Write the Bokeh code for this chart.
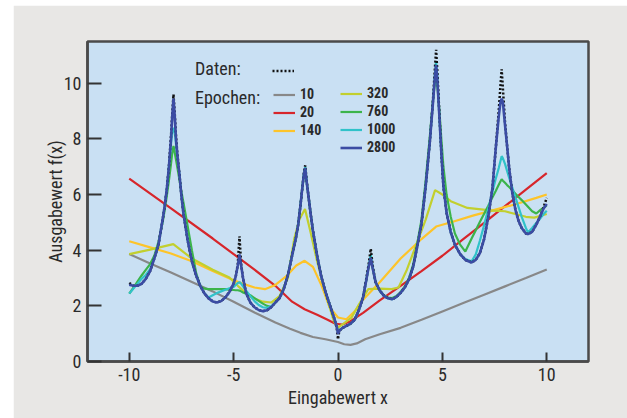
from bokeh.plotting import figure
from bokeh.models import FixedTicker, Label, Legend, LegendItem, Range1d
from bokeh.embed import file_html
from bokeh.resources import INLINE

# ---------------- data ----------------
X_TICKS = [-10, -5, 0, 5, 10]
Y_TICKS = [0, 2, 4, 6, 8, 10]

# shared grid for target data and the late-epoch fits
X = [
    -10.0, -9.8, -9.6, -9.4, -9.2, -9.0, -8.8, -8.6, -8.4, -8.3,
    -8.2, -8.1, -8.0, -7.94, -7.88, -7.82, -7.76, -7.7, -7.6, -7.5,
    -7.4, -7.2, -7.0, -6.8, -6.6, -6.4, -6.2, -6.0, -5.8, -5.6,
    -5.4, -5.2, -5.0, -4.9, -4.8, -4.72, -4.64, -4.55, -4.4, -4.2,
    -4.0, -3.8, -3.6, -3.4, -3.2, -3.0, -2.8, -2.6, -2.4, -2.2,
    -2.0, -1.9, -1.8, -1.7, -1.63, -1.57, -1.5, -1.4, -1.3, -1.2,
    -1.0, -0.8, -0.6, -0.4, -0.2, -0.06, 0.0, 0.06, 0.2, 0.4,
    0.6, 0.8, 1.0, 1.2, 1.35, 1.47, 1.57, 1.66, 1.8, 2.0,
    2.2, 2.4, 2.6, 2.8, 3.0, 3.2, 3.4, 3.6, 3.8, 4.0,
    4.2, 4.4, 4.55, 4.64, 4.7, 4.76, 4.85, 4.95, 5.05, 5.2,
    5.4, 5.6, 5.85, 6.1, 6.4, 6.6, 6.8, 7.0, 7.2, 7.4,
    7.55, 7.7, 7.78, 7.84, 7.9, 8.0, 8.1, 8.2, 8.35, 8.5,
    8.65, 8.8, 9.0, 9.1, 9.3, 9.5, 9.7, 9.85, 10.0]

DATEN = [
    2.82, 2.72, 2.72, 2.80, 2.98, 3.25, 3.7, 4.2, 5.1, 5.6,
    6.2, 7.0, 8.1, 8.9, 9.6, 8.9, 8.1, 7.5, 6.75, 5.95,
    5.3, 4.35, 3.6, 3.1, 2.72, 2.45, 2.27, 2.16, 2.12, 2.17,
    2.3, 2.5, 2.8, 3.05, 3.5, 4.5, 3.5, 3.0, 2.45, 2.12,
    1.95, 1.85, 1.81, 1.84, 1.95, 2.12, 2.28, 2.6, 3.1, 3.8,
    4.5, 4.95, 5.6, 6.3, 6.8, 7.05, 6.5, 5.85, 5.25, 4.7,
    3.8, 3.05, 2.5, 2.05, 1.6, 1.2, 0.8, 1.1, 1.2, 1.28,
    1.36, 1.5, 1.85, 2.3, 2.95, 3.5, 4.05, 3.45, 2.85, 2.55,
    2.36, 2.27, 2.24, 2.32, 2.47, 2.66, 2.95, 3.4, 4.15, 4.95,
    6.3, 7.9, 9.4, 10.5, 11.2, 10.4, 9.0, 7.5, 6.3, 5.35,
    4.65, 4.2, 3.86, 3.65, 3.56, 3.65, 3.9, 4.4, 5.2, 6.25,
    7.6, 9.0, 9.9, 10.5, 9.8, 8.6, 7.75, 6.95, 6.05, 5.45,
    5.05, 4.8, 4.6, 4.58, 4.66, 4.92, 5.25, 5.55, 5.88]

E2800 = [
    2.76, 2.72, 2.72, 2.80, 2.98, 3.25, 3.7, 4.2, 5.1, 5.6,
    6.2, 7.0, 8.0, 8.8, 9.45, 8.8, 8.0, 7.45, 6.75, 5.95,
    5.3, 4.35, 3.6, 3.1, 2.72, 2.45, 2.27, 2.16, 2.12, 2.17,
    2.3, 2.5, 2.8, 3.05, 3.45, 3.85, 3.45, 3.0, 2.45, 2.12,
    1.95, 1.85, 1.81, 1.84, 1.95, 2.12, 2.28, 2.6, 3.1, 3.8,
    4.5, 4.95, 5.6, 6.3, 6.75, 6.95, 6.45, 5.85, 5.25, 4.7,
    3.8, 3.05, 2.5, 2.05, 1.6, 1.25, 1.0, 1.1, 1.2, 1.28,
    1.36, 1.5, 1.85, 2.3, 2.9, 3.4, 3.72, 3.35, 2.85, 2.55,
    2.36, 2.27, 2.24, 2.32, 2.47, 2.66, 2.95, 3.4, 4.15, 4.95,
    6.3, 7.9, 9.3, 10.2, 10.65, 10.1, 8.9, 7.5, 6.3, 5.35,
    4.65, 4.2, 3.86, 3.65, 3.56, 3.65, 3.9, 4.4, 5.2, 6.25,
    7.6, 8.8, 9.3, 9.45, 9.3, 8.5, 7.75, 6.95, 6.05, 5.45,
    5.05, 4.8, 4.6, 4.58, 4.66, 4.92, 5.25, 5.5, 5.66]

E1000 = [
    2.44, 2.62, 2.8, 2.98, 3.12, 3.32, 3.7, 4.2, 5.1, 5.6,
    6.2, 7.0, 7.8, 8.25, 8.4, 8.2, 7.8, 7.4, 6.75, 5.95,
    5.3, 4.35, 3.6, 3.1, 2.72, 2.45, 2.3, 2.38, 2.46, 2.52,
    2.58, 2.63, 2.68, 2.75, 2.82, 2.85, 2.8, 2.7, 2.55, 2.35,
    2.17, 2.03, 1.95, 1.93, 1.98, 2.12, 2.28, 2.6, 3.1, 3.8,
    4.5, 4.95, 5.6, 6.3, 6.75, 7.0, 6.45, 5.85, 5.25, 4.7,
    3.8, 3.05, 2.5, 2.05, 1.6, 1.25, 1.05, 1.12, 1.2, 1.28,
    1.36, 1.5, 1.85, 2.3, 2.9, 3.45, 3.85, 3.4, 2.85, 2.55,
    2.36, 2.27, 2.24, 2.32, 2.47, 2.66, 2.95, 3.4, 4.15, 4.95,
    6.3, 7.9, 9.35, 10.3, 10.8, 10.2, 8.9, 7.5, 6.3, 5.35,
    4.65, 4.2, 3.86, 3.68, 3.6, 3.85, 4.35, 4.9, 5.5, 6.1,
    6.55, 6.95, 7.2, 7.38, 7.3, 7.1, 6.85, 6.6, 6.25, 5.9,
    5.55, 5.2, 4.8, 4.64, 4.8, 4.98, 5.15, 5.3, 5.42]

E760 = [
    2.44, 2.65, 2.88, 3.1, 3.3, 3.5, 3.8, 4.3, 5.0, 5.45,
    5.95, 6.5, 7.1, 7.5, 7.75, 7.5, 7.25, 7.0, 6.55, 6.1,
    5.7, 4.85, 4.0, 3.2, 2.7, 2.62, 2.6, 2.6, 2.6, 2.6,
    2.6, 2.58, 2.57, 2.56, 2.56, 2.55, 2.52, 2.48, 2.44, 2.38,
    2.28, 2.18, 2.08, 2.0, 1.96, 2.12, 2.3, 2.62, 3.12, 3.82,
    4.52, 4.98, 5.62, 6.32, 6.75, 6.9, 6.45, 5.85, 5.25, 4.7,
    3.8, 3.05, 2.5, 2.05, 1.6, 1.25, 1.08, 1.12, 1.2, 1.28,
    1.36, 1.5, 1.85, 2.3, 2.9, 3.4, 3.75, 3.35, 2.85, 2.55,
    2.38, 2.3, 2.28, 2.35, 2.5, 2.7, 3.0, 3.48, 4.25, 5.1,
    6.5, 8.1, 9.4, 10.0, 10.25, 9.9, 9.1, 8.0, 7.0, 6.0,
    5.2, 4.6, 4.2, 3.95, 4.42, 4.72, 5.02, 5.31, 5.6, 5.9,
    6.12, 6.35, 6.47, 6.55, 6.5, 6.42, 6.34, 6.27, 6.15, 6.03,
    5.91, 5.8, 5.64, 5.56, 5.4, 5.32, 5.45, 5.53, 5.6]

# early epochs: smoother curves, own grids
X10 = [-10, -9, -8, -7, -6, -5, -4, -3, -2.3, -1.8, -1.2, -0.6, 0, 0.3, 0.6,
       0.9, 1.3, 2, 3, 4, 5, 6, 7, 8, 9, 10]
E10 = [3.86, 3.52, 3.2, 2.86, 2.52, 2.15, 1.76, 1.4, 1.18, 1.03, 0.88, 0.8, 0.7,
       0.62, 0.6, 0.65, 0.8, 0.98, 1.21, 1.5, 1.8, 2.1, 2.4, 2.7, 3.0, 3.31]

X20 = [-10, -8, -6, -4, -3, -2.2, -1.6, -1.0, -0.5, -0.1, 0.2, 0.6, 1.2, 2, 3,
       4, 5, 6, 7, 8, 9, 10]
E20 = [6.57, 5.5, 4.42, 3.3, 2.72, 2.15, 1.88, 1.68, 1.5, 1.35, 1.33, 1.45, 1.75,
       2.2, 2.72, 3.25, 3.8, 4.4, 4.98, 5.58, 6.18, 6.77]

X140 = [-10, -9, -8, -7, -6, -5, -4.5, -4, -3.5, -3, -2.5, -2, -1.6, -1.2, -0.8,
        -0.4, 0, 0.4, 0.8, 1.2, 2, 3, 4, 4.7, 5.5, 6.5, 7.5, 8.5, 9.5, 10]
E140 = [4.32, 4.1, 3.88, 3.6, 3.25, 2.92, 2.78, 2.66, 2.6, 2.75, 3.05, 3.45, 3.62,
        3.4, 2.75, 1.95, 1.58, 1.52, 1.8, 2.22, 2.85, 3.7, 4.4, 4.85, 5.02, 5.25,
        5.45, 5.65, 5.88, 6.0]

X320 = [-10, -9, -7.89, -7, -6, -5.2, -4.8, -4.2, -3.6, -3.2, -2.8, -2.4, -2.1,
        -1.85, -1.58, -1.3, -1.0, -0.6, -0.2, 0, 0.3, 0.65, 1.0, 1.45, 2.0, 2.57,
        2.9, 3.3, 3.7, 4.2, 4.65, 5.0, 5.4, 6.2, 7.4, 8.0, 8.5, 9.0, 9.4, 10]
E320 = [3.86, 4.02, 4.22, 3.7, 3.3, 3.02, 2.72, 2.32, 2.15, 2.12, 2.35, 3.0, 4.4,
        5.1, 5.48, 4.6, 3.6, 2.45, 1.45, 1.22, 1.38, 1.58, 2.05, 2.6, 2.62, 2.6,
        2.66, 3.3, 4.1, 5.1, 6.16, 6.0, 5.76, 5.52, 5.42, 5.4, 5.3, 5.2, 5.17, 5.3]

LABELS = ["10", "20", "140", "320", "760", "1000", "2800"]
COLORS = ["#888888", "#d7262b", "#fdc42a", "#c2cf2e", "#3cb44b", "#30c2c9", "#3b4ca3"]

FONT = "'Roboto Condensed', 'DejaVu Sans Condensed', 'Liberation Sans Narrow', 'Open Sans', sans-serif"
TXT = "#2a2a2a"
FRAME = "#4a4a4a"

p = figure(width=614, height=413, x_range=Range1d(-12, 12), y_range=Range1d(0, 11.5),
           output_backend="svg", toolbar_location=None,
           min_border_left=74, min_border_right=39, min_border_top=36, min_border_bottom=57)
p.margin = (5, 0, 0, 13)
p.background_fill_color = "#c9e0f3"
p.border_fill_color = "#e8e7e5"
p.outline_line_color = FRAME
p.outline_line_width = 2.5
p.grid.visible = False

for ax, tin in ((p.xaxis[0], 9), (p.yaxis[0], 14)):
    ax.major_tick_in = tin
    ax.major_tick_out = 0
    ax.minor_tick_in = 0
    ax.minor_tick_out = 0
    ax.axis_line_color = FRAME
    ax.axis_line_width = 2.5
    ax.major_tick_line_color = "#333333"
    ax.major_tick_line_width = 2
    ax.major_label_text_font = FONT
    ax.major_label_text_font_size = "18px"
    ax.major_label_text_color = TXT
    ax.major_label_standoff = 6
    ax.axis_label_text_font = FONT
    ax.axis_label_text_font_size = "18px"
    ax.axis_label_text_font_style = "normal"
    ax.axis_label_text_color = TXT
p.xaxis[0].axis_label = "Eingabewert x"
p.xaxis[0].axis_label_standoff = 3
p.yaxis[0].axis_label = "Ausgabewert f(x)"
p.yaxis[0].axis_label_standoff = -5
p.xaxis[0].ticker = FixedTicker(ticks=X_TICKS)
p.xaxis[0].major_label_overrides = {t: str(t) for t in X_TICKS}
p.yaxis[0].ticker = FixedTicker(ticks=Y_TICKS)

xs = [X10, X20, X140, X320, X, X, X]
ys = [E10, E20, E140, E320, E760, E1000, E2800]
rends = []
for i in range(7):
    if i == 6:
        rd = p.line(X, DATEN, line_color="#111111", line_width=2.5, line_dash="2 2")
    r = p.line(xs[i], ys[i], line_color=COLORS[i], line_width=2.6 if i == 6 else 2.2)
    rends.append(r)

# legend headings
p.add_layout(Label(x=-6.85, y=10.53, text="Daten:", text_baseline="middle",
                   text_font=FONT, text_font_size="18px", text_color=TXT))
p.add_layout(Label(x=-6.85, y=9.49, text="Epochen:", text_baseline="middle",
                   text_font=FONT, text_font_size="18px", text_color=TXT))


def make_legend(items, loc):
    lg = Legend(items=items, location=loc, orientation="vertical", padding=0, margin=0,
                spacing=2, glyph_width=22, glyph_height=15, label_height=15,
                label_standoff=5, label_text_font=FONT, label_text_font_size="14px",
                label_text_font_style="bold", label_text_color=TXT,
                background_fill_alpha=0, border_line_alpha=0)
    p.add_layout(lg)


make_legend([LegendItem(label="", renderers=[rd])], (185, 283))
make_legend([LegendItem(label=LABELS[i], renderers=[rends[i]]) for i in range(3)], (186, 223))
make_legend([LegendItem(label=LABELS[i], renderers=[rends[i]]) for i in range(3, 7)], (253, 206))

open("out.html", "w").write(file_html(p, INLINE))
